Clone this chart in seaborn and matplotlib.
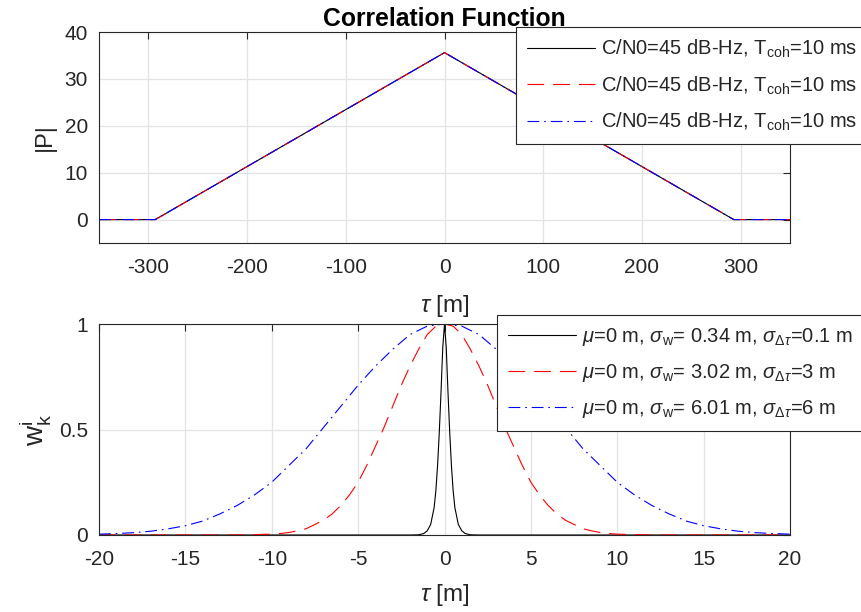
import matplotlib
matplotlib.use('Agg')
import matplotlib.pyplot as plt
import numpy as np
import pandas as pd
import seaborn as sns

# top panel: correlation function |P| vs code delay tau [m] (same curve for all three)
corr_tau = [-350, -293, 0, 293, 350]
corr_p = [0, 0, 35.6, 0, 0]
corr_labels = [r'C/N0=45 dB-Hz, T$_{\mathrm{coh}}$=10 ms'] * 3

# bottom panel: weights, read on the right half (curves are symmetric about 0)
w_tau_black = [0, 0.1, 0.2, 0.3, 0.4, 0.5, 0.6, 0.8, 1.0, 1.2, 1.5, 2.0, 20]
w_black = [1.0, 0.89, 0.68, 0.49, 0.33, 0.21, 0.13, 0.05, 0.02, 0.007, 0.001, 0.0, 0.0]
w_tau_red = [0, 0.5, 1, 1.5, 2, 2.5, 3, 3.5, 4, 4.5, 5, 5.5, 6, 6.5, 7, 7.5, 8, 8.5,
             9, 9.5, 10, 12, 20]
w_red = [1.0, 0.99, 0.95, 0.88, 0.80, 0.71, 0.61, 0.51, 0.42, 0.33, 0.25, 0.19, 0.14,
         0.10, 0.07, 0.05, 0.03, 0.02, 0.012, 0.007, 0.004, 0.0, 0.0]
w_tau_blue = [0, 1, 2, 3, 4, 5, 6, 7, 8, 9, 10, 11, 12, 13, 14, 15, 16, 17, 18, 19, 20]
w_blue = [1.0, 0.99, 0.95, 0.88, 0.80, 0.71, 0.61, 0.51, 0.41, 0.33, 0.25, 0.19, 0.14,
          0.10, 0.066, 0.044, 0.029, 0.018, 0.011, 0.007, 0.004]
w_labels = [
    r'$\mu$=0 m, $\sigma_{\mathrm{w}}$= 0.34 m, $\sigma_{\Delta\tau}$=0.1 m',
    r'$\mu$=0 m, $\sigma_{\mathrm{w}}$= 3.02 m, $\sigma_{\Delta\tau}$=3 m',
    r'$\mu$=0 m, $\sigma_{\mathrm{w}}$= 6.01 m, $\sigma_{\Delta\tau}$=6 m',
]

colors = ['black', 'red', 'blue']
styles = ['-', (0, (12, 6.5)), (0, (8.5, 3.5, 1.2, 3.5))]
INK = '#262626'


def mirror(tau, w):
    tau = np.asarray(tau, float)
    w = np.asarray(w, float)
    return np.concatenate([-tau[:0:-1], tau]), np.concatenate([w[:0:-1], w])


def style_axes(ax):
    ax.grid(True, color='#e3e3e3', lw=0.9)
    ax.set_axisbelow(True)
    for s in ax.spines.values():
        s.set_color(INK)
        s.set_linewidth(0.8)
    ax.tick_params(direction='in', length=5, width=0.8, top=True, right=True,
                   colors=INK, labelsize=15, pad=8)
    ax.tick_params(axis='x', pad=11)


sns.set_style('white')
plt.rcParams['font.family'] = ['Liberation Sans', 'DejaVu Sans']
plt.rcParams['mathtext.fontset'] = 'custom'
plt.rcParams['mathtext.rm'] = 'Liberation Sans'
plt.rcParams['mathtext.it'] = 'Liberation Sans:italic'
plt.rcParams['lines.scale_dashes'] = False
plt.rcParams['axes.unicode_minus'] = False

W, H = 861, 612
fig = plt.figure(figsize=(W / 100, H / 100), dpi=100)
ax1 = fig.add_axes([99 / W, 1 - 243 / H, 691 / W, 211 / H])
ax2 = fig.add_axes([99 / W, 1 - 535 / H, 691 / W, 211 / H])

for c, ls, lab in zip(colors, styles, corr_labels):
    sns.lineplot(x=corr_tau, y=corr_p, ax=ax1, color=c, linestyle=ls, lw=0.8, label=lab)
ax1.set_xlim(-350, 350)
ax1.set_ylim(-5, 40)
ax1.set_xticks([-300, -200, -100, 0, 100, 200, 300])
ax1.set_yticks([0, 10, 20, 30, 40])
ax1.set_xlabel(r'$\tau$ [m]', fontsize=17.5, color=INK, labelpad=11)
ax1.set_ylabel('|P|', fontsize=17, color=INK, labelpad=6)
ax1.set_title('Correlation Function', fontsize=17.8, fontweight='bold', color='black', pad=4)
style_axes(ax1)

curves = [(w_tau_black, w_black), (w_tau_red, w_red), (w_tau_blue, w_blue)]
for (t, w), c, ls, lab in zip(curves, colors, styles, w_labels):
    xt, yw = mirror(t, w)
    sns.lineplot(x=xt, y=yw, ax=ax2, color=c, linestyle=ls, lw=0.8, label=lab)
ax2.set_xlim(-20, 20)
ax2.set_ylim(0, 1)
ax2.set_xticks(np.arange(-20, 21, 5))
ax2.set_yticks([0, 0.5, 1])
ax2.set_yticklabels(['0', '0.5', '1'])
ax2.set_xlabel(r'$\tau$ [m]', fontsize=17.5, color=INK, labelpad=9)
ax2.set_ylabel(r'$\mathrm{w}_\mathrm{k}^\mathrm{i}$', fontsize=20, color=INK, labelpad=4)
style_axes(ax2)

leg_kw = dict(loc='upper left', bbox_transform=fig.transFigure, borderaxespad=0,
              fontsize=14.5, frameon=True, fancybox=False, framealpha=1,
              edgecolor=INK, handlelength=3.35, handletextpad=0.3,
              labelspacing=0.7, borderpad=0.55)
leg1 = ax1.legend(bbox_to_anchor=(516 / W, 1 - 27 / H), **leg_kw)
leg2 = ax2.legend(bbox_to_anchor=(497 / W, 1 - 315 / H), **leg_kw)
for leg in (leg1, leg2):
    leg.get_frame().set_linewidth(0.8)

fig.savefig('out.png', dpi=100)
